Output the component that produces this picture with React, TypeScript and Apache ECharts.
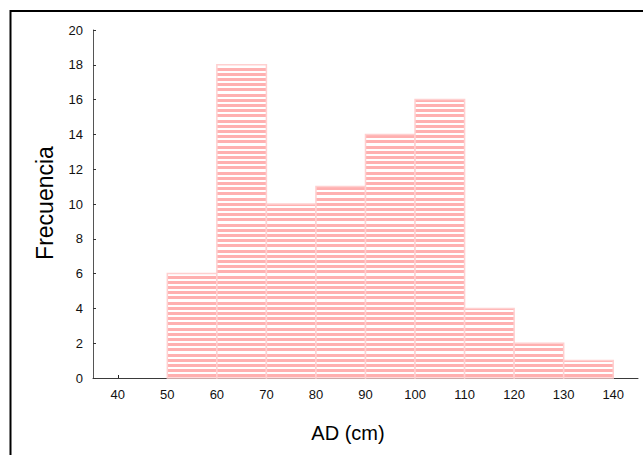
import React, { useEffect, useRef } from "react";
import * as echarts from "echarts";

const binStarts = [40, 50, 60, 70, 80, 90, 100, 110, 120, 130];
const binEnds = [50, 60, 70, 80, 90, 100, 110, 120, 130, 140];
const frequencies = [0, 6, 18, 10, 11, 14, 16, 4, 2, 1];
const xTickValues = [40, 50, 60, 70, 80, 90, 100, 110, 120, 130, 140];

function makeStripeCanvas(): HTMLCanvasElement {
  const c = document.createElement("canvas");
  c.width = 4;
  c.height = 26;
  const ctx = c.getContext("2d")!;
  ctx.fillStyle = "#ffffff";
  ctx.fillRect(0, 0, 4, 26);
  ctx.fillStyle = "#ffb0b0";
  [0, 5, 10, 16, 21].forEach((y) => ctx.fillRect(0, y, 4, 3));
  return c;
}

export default function App() {
  const ref = useRef<HTMLDivElement>(null);
  useEffect(() => {
    if (!ref.current) return;
    const chart = echarts.init(ref.current, undefined, { renderer: "svg" });
    const pattern = { image: makeStripeCanvas(), repeat: "repeat" } as any;
    const data = binStarts.map((s, i) => [s, binEnds[i], frequencies[i]]);
    const font = "'Liberation Sans', Arial, sans-serif";
    chart.setOption({
      animation: false,
      backgroundColor: "#ffffff",
      grid: { left: 93, right: 5, top: 30, bottom: 77, containLabel: false },
      xAxis: {
        type: "value",
        min: 35,
        max: 145,
        splitLine: { show: false },
        axisLine: { show: true, lineStyle: { color: "#3a3a3a", width: 1 } },
        axisTick: {
          show: true,
          inside: true,
          length: 3,
          customValues: xTickValues,
          lineStyle: { color: "#222" },
        },
        axisLabel: {
          customValues: xTickValues,
          color: "#111",
          fontSize: 13,
          fontFamily: font,
          margin: 10,
        },
      },
      yAxis: {
        type: "value",
        min: 0,
        max: 20,
        interval: 2,
        splitLine: { show: false },
        axisLine: { show: true, lineStyle: { color: "#555", width: 1 } },
        axisTick: { show: true, inside: true, length: 3, lineStyle: { color: "#333" } },
        axisLabel: { color: "#111", fontSize: 13, fontFamily: font, margin: 10 },
      },
      series: [
        {
          type: "custom",
          data,
          encode: { x: [0, 1], y: 2 },
          renderItem: (params: any, api: any) => {
            const lo = api.value(0);
            const hi = api.value(1);
            const v = api.value(2);
            if (v <= 0) return null;
            const p1 = api.coord([lo, v]);
            const p2 = api.coord([hi, 0]);
            return {
              type: "rect",
              shape: { x: p1[0], y: p1[1], width: p2[0] - p1[0], height: p2[1] - p1[1] },
              style: { fill: pattern, stroke: "#ffd0d0", lineWidth: 1.5 },
            };
          },
          z: 1,
        },
      ],
      graphic: [
        {
          type: "rect",
          shape: { x: 10.5, y: 11, width: 700, height: 500 },
          style: { fill: "none", stroke: "#000", lineWidth: 2 },
          silent: true,
        },
        {
          type: "text",
          x: 45,
          y: 203,
          rotation: Math.PI / 2,
          style: {
            text: "Frecuencia",
            fontSize: 23,
            fontFamily: font,
            fill: "#000",
            align: "center",
            verticalAlign: "middle",
          },
        },
        {
          type: "text",
          x: 348,
          y: 433,
          style: {
            text: "AD (cm)",
            fontSize: 20,
            fontFamily: font,
            fill: "#000",
            align: "center",
            verticalAlign: "middle",
          },
        },
      ],
    });
    return () => chart.dispose();
  }, []);
  return (
    <div
      ref={ref}
      style={{ position: "absolute", left: 0, top: 0, width: 643, height: 455 }}
    />
  );
}
